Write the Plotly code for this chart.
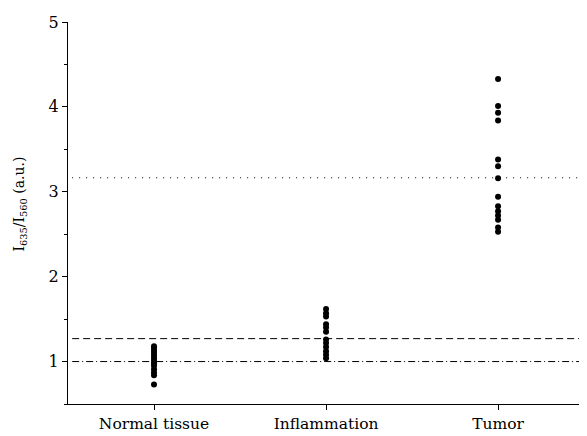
import plotly.graph_objects as go

categories = ["Normal tissue", "Inflammation", "Tumor"]
normal_vals = [1.18, 1.16, 1.13, 1.10, 1.07, 1.04, 1.01, 0.98, 0.95, 0.91, 0.87, 0.84, 0.73]
inflam_vals = [1.62, 1.57, 1.53, 1.44, 1.40, 1.35, 1.26, 1.22, 1.17, 1.12, 1.08, 1.04]
tumor_vals = [4.33, 4.01, 3.93, 3.84, 3.38, 3.30, 3.16, 2.94, 2.83, 2.77, 2.72, 2.67, 2.58, 2.53]
dotted_level = 3.165
dashed_level = 1.27
dashdot_level = 1.0
y_ticks = [1, 2, 3, 4, 5]
y_title = "I<sub>635</sub>/I<sub>560</sub> (a.u.)"

FONT = "DejaVu Serif"

fig = go.Figure()
for cat, vals in zip(categories, [normal_vals, inflam_vals, tumor_vals]):
    fig.add_trace(go.Scatter(
        x=[cat] * len(vals), y=vals, mode="markers",
        marker=dict(color="black", size=6), showlegend=False,
        cliponaxis=False,
    ))

for lvl, dash in [(dotted_level, "1px,6px"), (dashed_level, "7px,4px"),
                  (dashdot_level, "7px,3px,1px,3px")]:
    fig.add_shape(type="line", xref="paper", yref="y", x0=0.008, x1=1,
                  y0=lvl, y1=lvl, line=dict(color="black", width=1, dash=dash),
                  layer="below")

fig.add_annotation(text=y_title, textangle=-90, xref="paper", yref="paper",
                   x=-0.092, y=0.523, xanchor="center", yanchor="middle",
                   showarrow=False, font=dict(size=14, family=FONT, color="black"))

# page body has an 8px margin; size/margins compensate so the plot area sits at
# x 68..587, y 22..404 in the window
fig.update_layout(
    width=579, height=428,
    margin=dict(l=60, r=0, t=14, b=32),
    paper_bgcolor="white", plot_bgcolor="white",
    font=dict(family=FONT, color="black", size=14),
    xaxis=dict(
        type="category", categoryorder="array", categoryarray=categories,
        range=[-0.5, 2.517], showline=True, linecolor="black", linewidth=1,
        ticks="outside", ticklen=5, tickcolor="black", showgrid=False,
        zeroline=False, tickfont=dict(size=15.5, family=FONT),
    ),
    yaxis=dict(
        range=[0.5, 5], showline=True, linecolor="black", linewidth=1,
        tickvals=y_ticks, ticks="outside", ticklen=5, tickcolor="black",
        minor=dict(ticks="outside", ticklen=3, tickcolor="black", dtick=0.5, tick0=0.5, showgrid=False),
        showgrid=False, zeroline=False, tickfont=dict(size=16, family=FONT),
    ),
)

fig.write_html("out.html")
